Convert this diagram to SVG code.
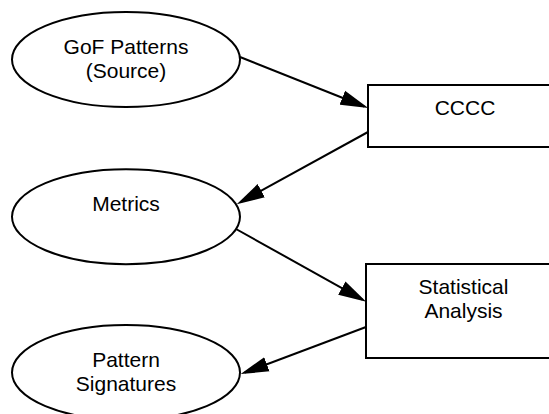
<svg xmlns="http://www.w3.org/2000/svg" width="549" height="414" viewBox="0 0 549 414">
  <style>
    .shape { fill: #ffffff; stroke: #000000; stroke-width: 2; }
    .edge { fill: none; stroke: #000000; stroke-width: 2; }
    .label { font-family: "Liberation Sans", Arial, sans-serif; font-size: 21px; fill: #000000; text-anchor: middle; }
  </style>
  <defs>
    <marker id="arrow" markerUnits="userSpaceOnUse" markerWidth="28" markerHeight="16" viewBox="0 0 26 14" refX="22" refY="7" orient="auto">
      <path d="M0,0 L26,7 L0,14 Z" fill="#000000"/>
    </marker>
  </defs>
  <rect width="549" height="414" fill="#ffffff"/>

  <g id="connectors">
    <path class="edge" d="M240,57 L364.3,106.5" marker-end="url(#arrow)"/>
    <path class="edge" d="M368,132 L240.5,202.1" marker-end="url(#arrow)"/>
    <path class="edge" d="M236,229 L362.5,299.6" marker-end="url(#arrow)"/>
    <path class="edge" d="M366,327 L244.7,372.6" marker-end="url(#arrow)"/>
  </g>

  <g id="gof-patterns">
    <ellipse class="shape" cx="126" cy="59.5" rx="114" ry="47.5"/>
    <text class="label" x="126" y="54">GoF Patterns</text>
    <text class="label" x="126" y="78">(Source)</text>
  </g>

  <g id="cccc">
    <rect class="shape" x="368" y="85" width="195" height="62"/>
    <text class="label" x="465" y="115">CCCC</text>
  </g>

  <g id="metrics">
    <ellipse class="shape" cx="126" cy="216.7" rx="114" ry="47.5"/>
    <text class="label" x="126" y="211">Metrics</text>
  </g>

  <g id="statistical-analysis">
    <rect class="shape" x="366" y="264" width="195" height="94"/>
    <text class="label" x="463.5" y="294">Statistical</text>
    <text class="label" x="463.5" y="318">Analysis</text>
  </g>

  <g id="pattern-signatures">
    <ellipse class="shape" cx="126" cy="372.5" rx="114" ry="47.5"/>
    <text class="label" x="126" y="367">Pattern</text>
    <text class="label" x="126" y="391">Signatures</text>
  </g>
</svg>
